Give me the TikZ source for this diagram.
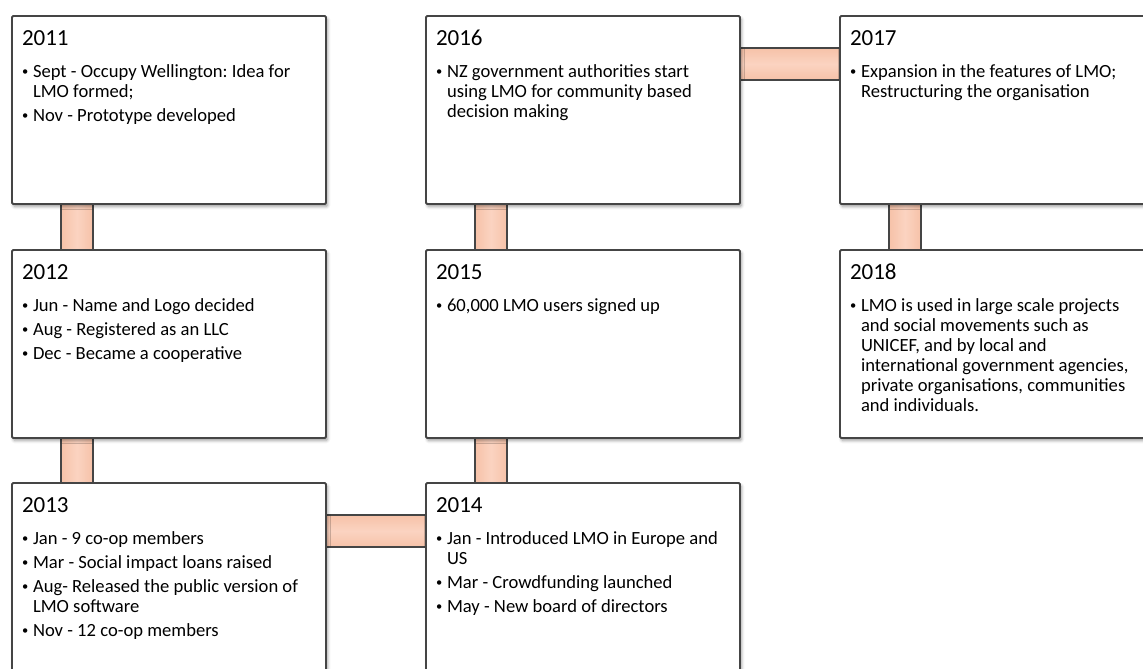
\documentclass[tikz,border=0pt]{standalone}
\usepackage{fontspec}
\setmainfont{Carlito}
\usetikzlibrary{shadows.blur,backgrounds,calc}

\definecolor{edge}{HTML}{454545}
\definecolor{peach}{HTML}{F6C2A8}
\definecolor{peachlight}{HTML}{FBD3C1}

% Year heading followed by the bullet list of one timeline entry
\newcommand\entry[2]{%
  \parbox[t][168pt][t]{294pt}{%
    \frenchspacing\setlength\parskip{4pt}\fontsize{18.6}{20}\selectfont
    {\fontsize{23}{23}\selectfont\rule{0pt}{19.7pt}#1\par}%
    \vspace{7.8pt}#2}}
\newcommand\itm[1]{\par\hangindent=11pt\hangafter=1\noindent
  \makebox[11pt][l]{\raisebox{1.6pt}{\fontsize{12.5}{12.5}\selectfont\textbullet}}#1\par}

\tikzset{
  yearbox/.style={draw=edge, line width=1.9pt, fill=white, rectangle,
    rounded corners=1.2pt, inner sep=10pt, outer sep=0pt, anchor=north west,
    blur shadow={shadow xshift=1.5pt, shadow yshift=-2.5pt,
      shadow blur radius=3pt, shadow opacity=40}},
  vlink/.style={draw=edge, line width=1.9pt, left color=peach,
    right color=peach, middle color=peachlight},
  hlink/.style={draw=edge, line width=1.9pt, top color=peach,
    bottom color=peach, middle color=peachlight}
}

\begin{document}
\begin{tikzpicture}[x=1pt, y=-1pt]
  \useasboundingbox (0,0) rectangle (1143,669);
  \clip (0,0) rectangle (1143,669);

  \node[yearbox] (b2011) at (12,16) {\entry{2011}{%
    \itm{Sept - Occupy Wellington: Idea for\newline LMO formed;}%
    \itm{Nov - Prototype developed}}};
  \node[yearbox] (b2012) at (12,250) {\entry{2012}{%
    \itm{Jun - Name and Logo decided}%
    \itm{Aug - Registered as an LLC}%
    \itm{Dec - Became a cooperative}}};
  \node[yearbox] (b2013) at (12,483) {\entry{2013}{%
    \itm{Jan - 9 co-op members}%
    \itm{Mar - Social impact loans raised}%
    \itm{Aug- Released the public version of\newline LMO software}%
    \itm{Nov - 12 co-op members}}};
  \node[yearbox] (b2014) at (426,483) {\entry{2014}{%
    \itm{Jan - Introduced LMO in Europe and\newline US}%
    \itm{Mar - Crowdfunding launched}%
    \itm{May - New board of directors}}};
  \node[yearbox] (b2015) at (426,250) {\entry{2015}{%
    \itm{60,000 LMO users signed up}}};
  \node[yearbox] (b2016) at (426,16) {\entry{2016}{%
    \itm{NZ government authorities start\newline using LMO for community based\newline decision making}}};
  \node[yearbox] (b2017) at (840,16) {\entry{2017}{%
    \itm{Expansion in the features of LMO;\newline Restructuring the organisation}}};
  \node[yearbox] (b2018) at (840,250) {\entry{2018}{%
    \itm{LMO is used in large scale projects\newline and social movements such as\newline UNICEF, and by local and\newline international government agencies,\newline private organisations, communities\newline and individuals.}}};

  % links between consecutive years, kept behind the boxes
  \begin{pgfonlayer}{background}
    \draw[vlink] ($(b2011.south west)+(49,0)$) rectangle ($(b2012.north west)+(81,0)$);
    \draw[vlink] ($(b2012.south west)+(49,0)$) rectangle ($(b2013.north west)+(81,0)$);
    \draw[hlink] ($(b2013.north east)+(0,32)$) rectangle ($(b2014.north west)+(0,64)$);
    \draw[vlink] ($(b2014.north west)+(49,0)$) rectangle ($(b2015.south west)+(81,0)$);
    \draw[vlink] ($(b2015.north west)+(49,0)$) rectangle ($(b2016.south west)+(81,0)$);
    \draw[hlink] ($(b2016.north east)+(0,32)$) rectangle ($(b2017.north west)+(0,64)$);
    \draw[vlink] ($(b2017.south west)+(49,0)$) rectangle ($(b2018.north west)+(81,0)$);
  \end{pgfonlayer}
\end{tikzpicture}
\end{document}
